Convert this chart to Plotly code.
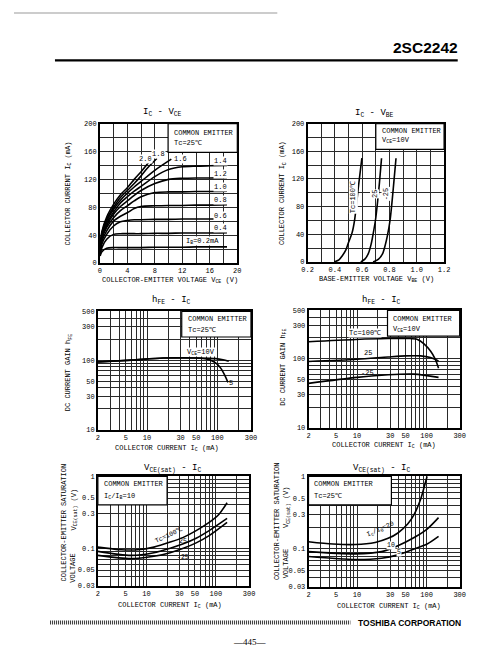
import plotly.graph_objects as go
import math

W, H = 484, 662
MONO = "Liberation Mono, DejaVu Sans Mono, monospace"

# ---------------- data ----------------
# Ic - Vce  (common emitter, Tc=25C)
vce_v = [0.05, 0.3, 1, 2, 3, 4, 5, 6, 8, 10, 12, 14, 16, 18.5]
ic_ib_0_2 = [10, 16, 21, 22, 22, 22, 22, 22, 22.5, 22.5, 22.5, 23, 23, 23]
ic_ib_0_4 = [12, 22, 34, 41, 42, 42, 42, 42, 42.5, 42.5, 43, 43, 43, 43.5]
ic_ib_0_6 = [13, 27, 41, 53, 59, 61, 62, 62, 62.5, 62.5, 63, 63, 63, 63.5]
ic_ib_0_8 = [14, 31, 46, 60, 67, 72, 78, 81, 82, 82.5, 82.5, 83, 83, 83.5]
ic_ib_1_0 = [15, 34, 51, 65, 75, 82, 89, 95, 101, 102, 102, 102.5, 102.5, 103]
ic_ib_1_2 = [16, 37, 54, 70, 81, 89, 97, 104, 114, 120, 121.5, 122, 122, 122.5]
ic_ib_1_4 = [17, 39, 57, 73, 86, 95, 103, 110, 124, 134, 138, 139, 139.5, 140]
vce_v_1_6 = [0.05, 0.3, 1, 2, 3, 4, 5, 6, 8, 10.4]
ic_ib_1_6 = [18, 41, 60, 77, 90, 100, 109, 117, 133, 149]
vce_v_1_8 = [0.05, 0.3, 1, 2, 3, 4, 5, 6, 7, 8.3]
ic_ib_1_8 = [19, 43, 63, 80, 94, 104, 114, 125, 137, 150]
vce_v_2_0 = [0.05, 0.3, 1, 2, 3, 4, 5, 6, 7, 7.5]
ic_ib_2_0 = [20, 45, 66, 84, 98, 108, 120, 131, 143, 150]
ib_labels = ["2.0", "1.8", "1.6", "1.4", "1.2", "1.0", "0.8", "0.6", "0.4", "I<sub>B</sub>=0.2mA"]

# Ic - Vbe (Vce=10V)
vbe_tc100 = [0.395, 0.43, 0.455, 0.48, 0.50, 0.526, 0.545, 0.574, 0.598]
ic_tc100 = [0, 3, 9, 17, 28, 42, 61, 111, 150]
vbe_tc25 = [0.59, 0.62, 0.645, 0.665, 0.68, 0.698, 0.712, 0.727, 0.742]
ic_tc25 = [0, 4, 12, 25, 40, 61, 85, 115, 150]
vbe_tcm25 = [0.68, 0.72, 0.75, 0.77, 0.785, 0.805, 0.818, 0.832, 0.848]
ic_tcm25 = [0, 4, 12, 25, 38, 61, 85, 115, 150]

# hFE - Ic (Tc=25C)
ic_hfe_v10 = [2, 6, 17, 50, 95, 120, 145]
hfe_v10 = [94, 100, 107, 107, 105, 101, 96]
ic_hfe_v5 = [2, 6, 17, 50, 75, 90, 100, 110, 120, 130, 141]
hfe_v5 = [94, 100, 107, 107, 102, 94, 87, 78, 68, 58, 48]

# hFE - Ic (Vce=10V)
ic_hfe_t100 = [2, 9.5, 28, 53.5, 74, 92, 114, 134, 149]
hfe_t100 = [176, 190, 196, 196, 190, 164, 129, 98, 73]
ic_hfe_t25 = [2, 10, 28, 50, 82, 114, 149]
hfe_t25 = [91, 98, 106, 110, 110, 104, 93]
ic_hfe_tm25 = [2, 10, 28, 66, 149]
hfe_tm25 = [44, 53.7, 58.6, 59.8, 53.7]

# Vce(sat) - Ic (Ic/Ib=10)
ic_sat_a = [2, 4.35, 7.5, 12.8, 22, 34, 52, 80, 111, 145]
vsat_t100 = [0.104, 0.0955, 0.0955, 0.104, 0.122, 0.142, 0.176, 0.229, 0.298, 0.43]
ic_sat_b = [2, 6, 12.8, 22, 34, 52, 80, 145]
vsat_t25 = [0.0906, 0.0798, 0.087, 0.1005, 0.1156, 0.138, 0.176, 0.26]
vsat_tm25 = [0.0798, 0.072, 0.0775, 0.087, 0.1, 0.119, 0.150, 0.229]

# Vce(sat) - Ic (Tc=25C)
ic_sat_r20 = [2, 4.5, 9.5, 18.2, 28, 38.7, 53.5, 66.4, 82, 91.7, 102]
vsat_r20 = [0.126, 0.117, 0.115, 0.123, 0.14, 0.166, 0.22, 0.30, 0.48, 0.69, 1.0]
ic_sat_r = [2, 9.5, 22.6, 38.7, 66.4, 102, 149]
vsat_r10 = [0.092, 0.0857, 0.092, 0.111, 0.144, 0.188, 0.27]
vsat_r5 = [0.0787, 0.0716, 0.0747, 0.083, 0.1, 0.117, 0.149]

# tick labels
vce_ticks = [0, 2, 4, 6, 8, 10, 12, 14, 16, 18, 20]
vce_ticktext = ["0", "", "4", "", "8", "", "12", "", "16", "", "20"]
ic_lin_ticks = [0, 20, 40, 60, 80, 100, 120, 140, 160, 180, 200]
ic_lin_ticktext = ["0", "", "40", "", "80", "", "120", "", "160", "", "200"]
vbe_ticks = [0.2, 0.3, 0.4, 0.5, 0.6, 0.7, 0.8, 0.9, 1.0, 1.1, 1.2]
vbe_ticktext = ["0.2", "", "0.4", "", "0.6", "", "0.8", "", "1.0", "", "1.2"]
ic_log_ticks = [2, 3, 4, 5, 6, 7, 8, 9, 10, 20, 30, 40, 50, 60, 70, 80, 90, 100, 200, 300]
ic_log_labels = {2: "2", 5: "5", 10: "10", 30: "30", 50: "50", 100: "100", 300: "300"}
hfe_ticks = [10, 20, 30, 40, 50, 60, 70, 80, 90, 100, 200, 300, 400, 500]
hfe_labels = {10: "10", 30: "30", 50: "50", 100: "100", 300: "300", 500: "500"}
vsat_ticks = [0.03, 0.04, 0.05, 0.06, 0.07, 0.08, 0.09, 0.1, 0.2, 0.3, 0.4, 0.5, 0.6, 0.7, 0.8, 0.9, 1]
vsat_labels = {0.03: "0.03", 0.05: "0.05", 0.1: "0.1", 0.3: "0.3", 0.5: "0.5", 1: "1"}

# ---------------- helpers ----------------
def PX(x):
    return x / W

def PY(y):
    return 1 - y / H

def axis(dom, rng, tv, tt, typ="linear", anchor=None):
    d = dict(domain=dom, range=rng, type=typ, tickmode="array", tickvals=tv, ticktext=tt,
             showgrid=True, gridcolor="#2a2a2a", gridwidth=1, showline=True, linecolor="black",
             linewidth=1.6, mirror=True, ticks="", zeroline=False, fixedrange=True,
             tickfont=dict(family=MONO, size=7, color="black"), layer="below traces")
    if anchor:
        d["anchor"] = anchor
    return d

def labs(ticks, mapping):
    return [mapping.get(t, "") for t in ticks]

fig = go.Figure()
LINE = dict(color="black", width=1.6, shape="spline", smoothing=0.8)

def add(x, y, xa, ya):
    fig.add_trace(go.Scatter(x=x, y=y, mode="lines", line=LINE, xaxis=xa, yaxis=ya,
                             showlegend=False, hoverinfo="skip"))

# plot 1
add(vce_v, ic_ib_0_2, "x", "y")
add(vce_v, ic_ib_0_4, "x", "y")
add(vce_v, ic_ib_0_6, "x", "y")
add(vce_v, ic_ib_0_8, "x", "y")
add(vce_v, ic_ib_1_0, "x", "y")
add(vce_v, ic_ib_1_2, "x", "y")
add(vce_v, ic_ib_1_4, "x", "y")
add(vce_v_1_6, ic_ib_1_6, "x", "y")
add(vce_v_1_8, ic_ib_1_8, "x", "y")
add(vce_v_2_0, ic_ib_2_0, "x", "y")
# plot 2
add(vbe_tc100, ic_tc100, "x2", "y2")
add(vbe_tc25, ic_tc25, "x2", "y2")
add(vbe_tcm25, ic_tcm25, "x2", "y2")
# plot 3
add(ic_hfe_v10, hfe_v10, "x3", "y3")
add(ic_hfe_v5, hfe_v5, "x3", "y3")
# plot 4
add(ic_hfe_t100, hfe_t100, "x4", "y4")
add(ic_hfe_t25, hfe_t25, "x4", "y4")
add(ic_hfe_tm25, hfe_tm25, "x4", "y4")
# plot 5
add(ic_sat_a, vsat_t100, "x5", "y5")
add(ic_sat_b, vsat_t25, "x5", "y5")
add(ic_sat_b, vsat_tm25, "x5", "y5")
# plot 6
add(ic_sat_r20, vsat_r20, "x6", "y6")
add(ic_sat_r, vsat_r10, "x6", "y6")
add(ic_sat_r, vsat_r5, "x6", "y6")

def dx(a, b):
    return [PX(a), PX(b)]

def dy(top, bottom):
    return [PY(bottom), PY(top)]

lx = [math.log10(2), math.log10(300)]
layout = dict(
    xaxis=axis(dx(88, 229), [0, 20], vce_ticks, vce_ticktext, anchor="y"),
    yaxis=axis(dy(113, 254), [0, 200], ic_lin_ticks, ic_lin_ticktext, anchor="x"),
    xaxis2=axis(dx(301, 441), [0.2, 1.2], vbe_ticks, vbe_ticktext, anchor="y2"),
    yaxis2=axis(dy(113, 253), [0, 200], ic_lin_ticks, ic_lin_ticktext, anchor="x2"),
    xaxis3=axis(dx(86, 243), lx, ic_log_ticks, labs(ic_log_ticks, ic_log_labels), "log", "y3"),
    yaxis3=axis(dy(303, 423), [1, math.log10(500)], hfe_ticks, labs(hfe_ticks, hfe_labels), "log", "x3"),
    xaxis4=axis(dx(302, 457), lx, ic_log_ticks, labs(ic_log_ticks, ic_log_labels), "log", "y4"),
    yaxis4=axis(dy(302, 421), [1, math.log10(500)], hfe_ticks, labs(hfe_ticks, hfe_labels), "log", "x4"),
    xaxis5=axis(dx(86, 241), lx, ic_log_ticks, labs(ic_log_ticks, ic_log_labels), "log", "y5"),
    yaxis5=axis(dy(470, 581), [math.log10(0.03), 0], vsat_ticks, labs(vsat_ticks, vsat_labels), "log", "x5"),
    xaxis6=axis(dx(302, 457), lx, ic_log_ticks, labs(ic_log_ticks, ic_log_labels), "log", "y6"),
    yaxis6=axis(dy(470, 582), [math.log10(0.03), 0], vsat_ticks, labs(vsat_ticks, vsat_labels), "log", "x6"),
)

anns = []

def A(text, x, y, size=7, angle=0, xa="center", ya="middle", xref="paper", yref="paper",
      bg=None, family=MONO, color="black"):
    if xref == "paper":
        x = PX(x)
    if yref == "paper":
        y = PY(y)
    d = dict(text=text, x=x, y=y, xref=xref, yref=yref, showarrow=False, textangle=angle,
             xanchor=xa, yanchor=ya, font=dict(family=family, size=size, color=color), borderpad=0)
    if bg:
        d["bgcolor"] = bg
    anns.append(d)

# header / footer
A("<b>2SC2242</b>", 456, 36, size=15.5, xa="right",
  family="Liberation Sans, Arial, sans-serif")
A("<b>TOSHIBA CORPORATION</b>", 459, 618, size=8.5, xa="right", family="Liberation Sans, Arial, sans-serif")
A("\u2014445\u2014", 242, 638, size=9, family="Liberation Serif, serif")

# titles
A("I<sub>C</sub> - V<sub>CE</sub>", 152, 102, size=9)
A("I<sub>C</sub> - V<sub>BE</sub>", 370, 103, size=9)
A("h<sub>FE</sub> - I<sub>C</sub>", 162, 292, size=9)
A("h<sub>FE</sub> - I<sub>C</sub>", 377, 292, size=9)
A("V<sub>CE(sat)</sub> - I<sub>C</sub>", 163, 462, size=9)
A("V<sub>CE(sat)</sub> - I<sub>C</sub>", 377, 462, size=9)

# x-axis titles
A("COLLECTOR-EMITTER VOLTAGE V<sub>CE</sub> (V)", 160, 271, size=7)
A("BASE-EMITTER VOLTAGE V<sub>BE</sub> (V)", 372, 270, size=7)
A("COLLECTOR CURRENT I<sub>C</sub> (mA)", 157, 441, size=7)
A("COLLECTOR CURRENT I<sub>C</sub> (mA)", 379, 438, size=7)
A("COLLECTOR CURRENT I<sub>C</sub> (mA)", 160, 600, size=7)
A("COLLECTOR CURRENT I<sub>C</sub> (mA)", 385, 601, size=7)

# y-axis titles
A("COLLECTOR CURRENT I<sub>C</sub> (mA)", 55, 184, size=7, angle=-90)
A("COLLECTOR CURRENT I<sub>C</sub> (mA)", 275, 183, size=7, angle=-90)
A("DC CURRENT GAIN h<sub>FE</sub>", 55, 365, size=7, angle=-90)
A("DC CURRENT GAIN h<sub>FE</sub>", 275, 360, size=7, angle=-90)
A("COLLECTOR-EMITTER SATURATION", 51, 517, size=7, angle=-90)
A("V<sub>CE(sat)</sub> (V)", 61, 503, size=7, angle=-90)
A("VOLTAGE", 61, 563, size=7, angle=-90)
A("COLLECTOR-EMITTER SATURATION", 269, 515, size=7, angle=-90)
A("V<sub>CE(sat)</sub> (V)", 279, 501, size=7, angle=-90)
A("VOLTAGE", 279, 559, size=7, angle=-90)

# legend boxes (white, over grid)
shapes = []

def box(x0, y0, x1, y1):
    shapes.append(dict(type="rect", xref="paper", yref="paper", x0=PX(x0), x1=PX(x1),
                       y0=PY(y1), y1=PY(y0), fillcolor="white",
                       line=dict(color="black", width=1.2), layer="above"))

box(158, 113, 229, 142)
A("COMMON EMITTER", 163, 122, xa="left")
A("Tc=25\u2103", 163, 133, xa="left")
box(371, 113, 441, 139)
A("COMMON EMITTER", 376, 120, xa="left")
A("V<sub>CE</sub>=10V", 376, 130, xa="left")
box(172, 303, 243, 329)
A("COMMON EMITTER", 177, 311, xa="left")
A("Tc=25\u2103", 177, 322, xa="left")
box(383, 302, 457, 328)
A("COMMON EMITTER", 388, 311, xa="left")
A("V<sub>CE</sub>=10V", 388, 321, xa="left")
box(86, 470, 157, 499)
A("COMMON EMITTER", 91, 478, xa="left")
A("I<sub>C</sub>/I<sub>B</sub>=10", 91, 490, xa="left")
box(302, 470, 387, 499)
A("COMMON EMITTER", 307, 478, xa="left")
A("Tc=25\u2103", 307, 490, xa="left")

# curve labels, plot 1 (data coords)
ib_pos = [(6.6, 149.5), (8.6, 156), (11.7, 149), (17.6, 146), (17.6, 128), (17.6, 108.5),
          (17.6, 91), (17.6, 68), (17.6, 50.5), (14.9, 31.5)]
for t, (px_, py_) in zip(ib_labels, ib_pos):
    A(t, px_, py_, xref="x", yref="y", bg="white")

# plot 2
A("Tc=100\u2103", 0.535, 94, angle=-90, xref="x2", yref="y2", bg="white")
A("25", 0.692, 98, angle=-90, xref="x2", yref="y2", bg="white")
A("-25", 0.776, 98, angle=-90, xref="x2", yref="y2", bg="white")

# plot 3
A("V<sub>CE</sub>=10V", math.log10(58), math.log10(130), xref="x3", yref="y3", bg="white")
A("5", math.log10(156), math.log10(47), xref="x3", yref="y3")

# plot 4
A("Tc=100\u2103", math.log10(13.2), math.log10(234), xref="x4", yref="y4", bg="white")
A("25", math.log10(14.4), math.log10(120), xref="x4", yref="y4")
A("-25", math.log10(13.9), math.log10(63), xref="x4", yref="y4")

# plot 5
A("Tc=100\u2103", math.log10(21), math.log10(0.152), angle=-25, xref="x5", yref="y5", size=6.5)
A("25", math.log10(34), math.log10(0.126), xref="x5", yref="y5", size=6.5)
A("-25", math.log10(34), math.log10(0.0757), xref="x5", yref="y5", size=6.5)

# plot 6
A("I<sub>C</sub>/I<sub>B</sub>=20", math.log10(21.4), math.log10(0.185), angle=-24, xref="x6", yref="y6", size=6.5)
A("10", math.log10(30.5), math.log10(0.113), xref="x6", yref="y6", size=6.5, bg="white")
A("5", math.log10(40.8), math.log10(0.09), xref="x6", yref="y6", size=6.5, bg="white")

# page decorations
shapes.append(dict(type="line", xref="paper", yref="paper", x0=PX(42), x1=PX(455), y0=PY(49), y1=PY(49),
                   line=dict(color="black", width=2.2)))
shapes.append(dict(type="line", xref="paper", yref="paper", x0=PX(37), x1=PX(345), y0=PY(618), y1=PY(618),
                   line=dict(color="#333", width=4, dash="1px,1px")))
shapes.append(dict(type="line", xref="paper", yref="paper", x0=PX(0), x1=PX(270), y0=PY(1), y1=PY(1),
                   line=dict(color="#bbbbbb", width=1.5)))

fig.update_layout(**layout)
fig.update_layout(width=W, height=H, margin=dict(l=0, r=0, t=0, b=0),
                  paper_bgcolor="white", plot_bgcolor="white",
                  annotations=anns, shapes=shapes, showlegend=False,
                  font=dict(family=MONO, color="black"))

fig.write_html("out.html")
